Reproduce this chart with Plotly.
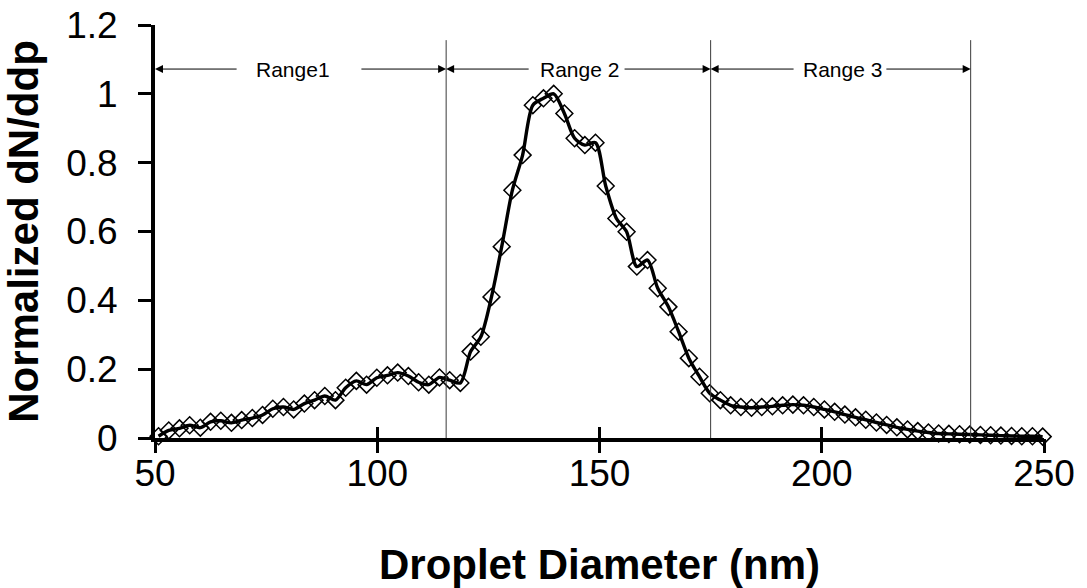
import plotly.graph_objects as go

# ---------------- data ----------------
diameter_nm = [
    50.8, 53.1, 55.5, 57.8, 60.2, 62.5, 64.8, 67.2, 69.5, 71.9,
    74.2, 76.5, 78.9, 81.2, 83.6, 85.9, 88.2, 90.6, 92.9, 95.3,
    97.6, 99.9, 102.3, 104.6, 107.0, 109.3, 111.6, 114.0, 116.3, 118.7,
    121.0, 123.3, 125.7, 128.0, 130.4, 132.7, 135.0, 137.4, 139.7, 142.1,
    144.4, 146.7, 149.1, 151.4, 153.8, 156.1, 158.4, 160.8, 163.1, 165.5,
    167.8, 170.1, 172.5, 174.8, 177.2, 179.5, 181.8, 184.2, 186.5, 188.9,
    191.2, 193.5, 195.9, 198.2, 200.6, 202.9, 205.2, 207.6, 209.9, 212.3,
    214.6, 216.9, 219.3, 221.6, 224.0, 226.3, 228.6, 231.0, 233.3, 235.7,
    238.0, 240.3, 242.7, 245.0, 247.4, 249.7,
]
normalized_dn = [
    0.005, 0.022, 0.028, 0.037, 0.030, 0.047, 0.050, 0.044, 0.052, 0.058,
    0.067, 0.085, 0.090, 0.083, 0.100, 0.110, 0.122, 0.110, 0.146, 0.166,
    0.155, 0.175, 0.182, 0.190, 0.180, 0.162, 0.155, 0.176, 0.168, 0.160,
    0.251, 0.294, 0.410, 0.556, 0.720, 0.822, 0.967, 0.987, 1.000, 0.943,
    0.871, 0.851, 0.858, 0.732, 0.638, 0.599, 0.498, 0.517, 0.435, 0.381,
    0.309, 0.232, 0.178, 0.130, 0.110, 0.095, 0.090, 0.088, 0.090, 0.092,
    0.095, 0.097, 0.095, 0.090, 0.083, 0.076, 0.068, 0.060, 0.053, 0.045,
    0.038, 0.031, 0.025, 0.020, 0.016, 0.013, 0.012, 0.011, 0.010, 0.009,
    0.008, 0.007, 0.006, 0.005, 0.005, 0.004,
]

x_ticks = [50, 100, 150, 200, 250]
y_ticks = [0, 0.2, 0.4, 0.6, 0.8, 1.0, 1.2]

range_bounds = [50, 115.5, 175.0, 233.5]
range_labels = ["Range1", "Range 2", "Range 3"]
label_x = [81.0, 145.6, 204.6]
gap_left = [68.7, 134.4, 194.0]
gap_right = [96.1, 155.3, 214.2]
arrow_y = 1.072
divider_top = 1.156

FONT = "Liberation Sans, Arial, sans-serif"

fig = go.Figure()

fig.add_trace(go.Scatter(
    x=diameter_nm, y=normalized_dn,
    mode="lines+markers",
    line=dict(color="black", width=3.4, shape="spline", smoothing=0.8),
    marker=dict(symbol="diamond-open", size=13, color="black",
                line=dict(color="black", width=1.5)),
    cliponaxis=False,
    showlegend=False,
    hoverinfo="x+y",
))

# helper traces so the overlay axes (two halves of the crossing ticks) are drawn
for ax in ("x2", "x3"):
    fig.add_trace(go.Scatter(
        x=diameter_nm[:1], y=normalized_dn[:1], xaxis=ax,
        mode="markers", marker=dict(opacity=0), showlegend=False, hoverinfo="skip",
    ))

shapes = []
for b in range_bounds[1:]:
    shapes.append(dict(type="line", xref="x", yref="y", x0=b, x1=b,
                       y0=0, y1=divider_top,
                       line=dict(color="#3a3a3a", width=1)))

annotations = []
for i, lab in enumerate(range_labels):
    annotations.append(dict(x=label_x[i], y=arrow_y, xref="x", yref="y",
                            text=lab, showarrow=False,
                            font=dict(family=FONT, size=21, color="black")))
    annotations.append(dict(x=range_bounds[i], y=arrow_y, ax=gap_left[i], ay=arrow_y,
                            xref="x", yref="y", axref="x", ayref="y", text="",
                            showarrow=True, arrowhead=2, arrowsize=1.6,
                            arrowwidth=1, arrowcolor="black", standoff=0))
    annotations.append(dict(x=range_bounds[i + 1], y=arrow_y, ax=gap_right[i], ay=arrow_y,
                            xref="x", yref="y", axref="x", ayref="y", text="",
                            showarrow=True, arrowhead=2, arrowsize=1.6,
                            arrowwidth=1, arrowcolor="black", standoff=0))

tick_common = dict(range=[50, 250], tickvals=x_ticks, overlaying="x", matches="x",
                   anchor="y", side="bottom", tickwidth=3, tickcolor="black",
                   showline=False, showgrid=False, zeroline=False,
                   showticklabels=False, automargin=False)

fig.update_layout(
    width=1087, height=588, autosize=False,
    margin=dict(l=155, r=43, t=25, b=150, autoexpand=False),
    paper_bgcolor="white", plot_bgcolor="white",
    font=dict(family=FONT, color="black"),
    shapes=shapes, annotations=annotations,
    xaxis=dict(
        range=[50, 250], tickvals=x_ticks, ticks="",
        showline=True, linewidth=4, linecolor="black",
        showgrid=False, zeroline=False, automargin=False,
        tickfont=dict(family=FONT, size=37), ticklabelstandoff=0,
        title=dict(text="Droplet Diameter (nm)", standoff=60,
                   font=dict(family=FONT, size=42, weight="bold")),
    ),
    xaxis2=dict(ticks="inside", ticklen=11, **tick_common),
    xaxis3=dict(ticks="outside", ticklen=14, **tick_common),
    yaxis=dict(
        range=[0, 1.2], tickvals=y_ticks, ticks="outside", ticklen=13,
        tickwidth=3, tickcolor="black", showline=True, linewidth=4,
        linecolor="black", showgrid=False, zeroline=False, automargin=False,
        tickfont=dict(family=FONT, size=37), ticklabelstandoff=13,
        title=dict(text="Normalized dN/ddp", standoff=20,
                   font=dict(family=FONT, size=42, weight="bold")),
    ),
)

fig.write_html("out.html")
